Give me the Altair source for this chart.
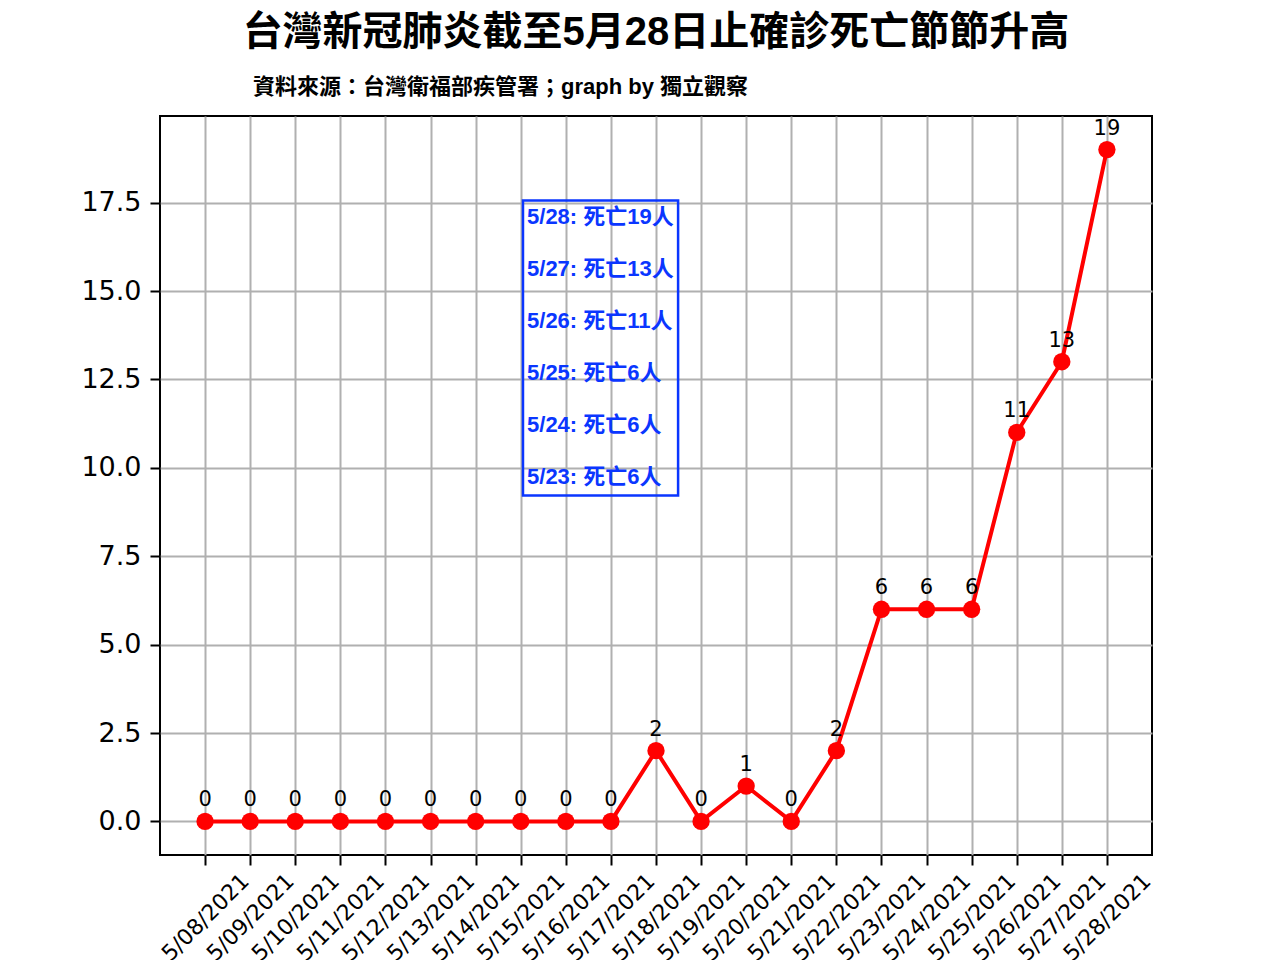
import json
import altair as alt
import pandas as pd

# ---- data ----
dates = ["5/08/2021", "5/09/2021", "5/10/2021", "5/11/2021", "5/12/2021",
         "5/13/2021", "5/14/2021", "5/15/2021", "5/16/2021", "5/17/2021",
         "5/18/2021", "5/19/2021", "5/20/2021", "5/21/2021", "5/22/2021",
         "5/23/2021", "5/24/2021", "5/25/2021", "5/26/2021", "5/27/2021",
         "5/28/2021"]
deaths = [0, 0, 0, 0, 0, 0, 0, 0, 0, 0, 2, 0, 1, 0, 2, 6, 6, 6, 11, 13, 19]
y_ticks = [0.0, 2.5, 5.0, 7.5, 10.0, 12.5, 15.0, 17.5]
box_lines = ["5/28: 死亡19人", "5/27: 死亡13人", "5/26: 死亡11人",
             "5/25: 死亡6人", "5/24: 死亡6人", "5/23: 死亡6人"]
title_text = "台灣新冠肺炎截至5月28日止確診死亡節節升高"
subtitle_text = "資料來源：台灣衛福部疾管署；graph by 獨立觀察"

# annotation box anchor in data coordinates
box_x = [7.05]
box_x2 = [10.49]
box_y = [17.56]
box_y2 = [9.22]
box_text_x = [7.14]
box_text_y = [17.38]

df = pd.DataFrame({"i": list(range(len(dates))), "date": dates, "deaths": deaths})
box_df = pd.DataFrame({"x": box_x, "x2": box_x2, "y": box_y, "y2": box_y2})
box_text_df = pd.DataFrame({"x": box_text_x, "y": box_text_y})
box_text_df["t"] = [box_lines]
sub_df = pd.DataFrame({"t": [subtitle_text]})

BLUE = "#0a36ff"
LATIN_CJK = "Liberation Sans, Noto Sans CJK TC"

x_scale = alt.Scale(domain=[-1, 21], nice=False, zero=False)
y_scale = alt.Scale(domain=[-0.95, 19.95], nice=False, zero=False)

label_expr = json.dumps(dates, ensure_ascii=False) + "[datum.value]"

x_enc = alt.X("i:Q", scale=x_scale, title=None,
              axis=alt.Axis(values=list(range(len(dates))), labelExpr=label_expr,
                            labelAngle=315, labelAlign="center", labelBaseline="middle",
                            labelPadding=52, labelFontSize=22, labelFont="DejaVu Sans",
                            labelColor="black", labelOverlap=False))
y_enc = alt.Y("deaths:Q", scale=y_scale, title=None,
              axis=alt.Axis(values=y_ticks, format=".1f", labelFontSize=27,
                            labelFont="DejaVu Sans", labelColor="black",
                            labelPadding=9, minExtent=80, maxExtent=80))

base = alt.Chart(df)
line = base.mark_line(color="red", strokeWidth=4).encode(x=x_enc, y=y_enc)
pts = base.mark_circle(color="red", size=300, opacity=1).encode(x="i:Q", y="deaths:Q")
labels = base.mark_text(font="DejaVu Sans", fontSize=21, color="black",
                        baseline="alphabetic", dy=-15).encode(
    x="i:Q", y="deaths:Q", text="deaths:Q")

box = alt.Chart(box_df).mark_rect(fill=None, stroke=BLUE, strokeWidth=2.5).encode(
    x="x:Q", x2="x2:Q", y="y:Q", y2="y2:Q")
box_text = alt.Chart(box_text_df).mark_text(
    font=LATIN_CJK, fontSize=22, fontWeight="bold", color=BLUE,
    align="left", baseline="top", lineHeight=52).encode(
    x="x:Q", y="y:Q", text="t")

sub = alt.Chart(sub_df).mark_text(
    font=LATIN_CJK, fontSize=22, fontWeight="bold", color="black",
    align="left", baseline="middle").encode(
    x=alt.value(93), y=alt.value(-29), text="t:N")

chart = alt.layer(line, pts, labels, box, box_text, sub).properties(
    width=992, height=739,
    padding={"left": 72, "top": 5, "right": 20, "bottom": 5},
    title=alt.TitleParams(title_text, font=LATIN_CJK, fontSize=40, fontWeight="bold",
                          color="black", anchor="middle", offset=23),
).configure_view(stroke="black", strokeWidth=2).configure_axis(
    domain=False, grid=True, gridColor="#b0b0b0", gridWidth=2,
    tickColor="black", tickWidth=2, tickSize=10,
)

chart.save("out.html", embed_options={"renderer": "svg", "actions": False})
